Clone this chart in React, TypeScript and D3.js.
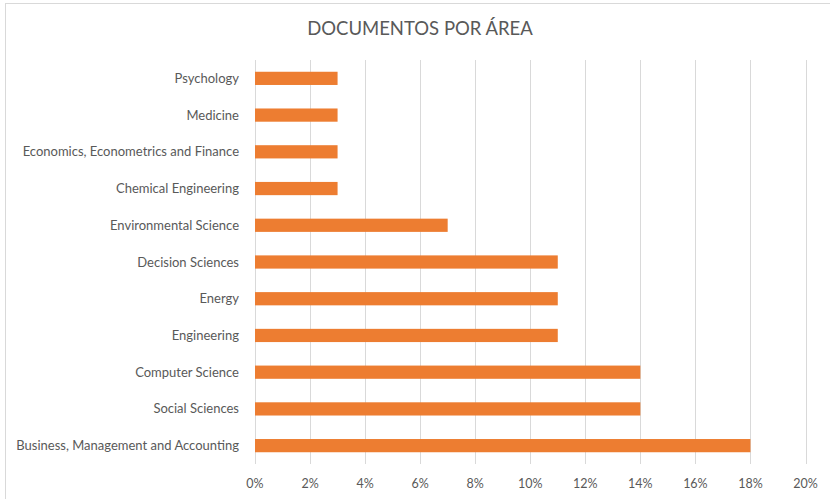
import { useEffect, useRef } from "react";
import * as d3 from "d3";

const categories = [
  "Psychology",
  "Medicine",
  "Economics, Econometrics and Finance",
  "Chemical Engineering",
  "Environmental Science",
  "Decision Sciences",
  "Energy",
  "Engineering",
  "Computer Science",
  "Social Sciences",
  "Business, Management and Accounting",
];
const shares = [0.03, 0.03, 0.03, 0.03, 0.07, 0.11, 0.11, 0.11, 0.14, 0.14, 0.18];
const ticks = [0, 0.02, 0.04, 0.06, 0.08, 0.1, 0.12, 0.14, 0.16, 0.18, 0.2];

const W = 830;
const H = 499;
const FONT = "Lato, 'Open Sans', sans-serif";
const TEXT = "#595959";

export default function App() {
  const ref = useRef<SVGSVGElement>(null);

  useEffect(() => {
    if (!ref.current) return;
    const svg = d3.select(ref.current);
    svg.selectAll("*").remove();

    const x = d3.scaleLinear().domain([0, 0.2]).range([255, 805.5]);
    const y = d3.scaleBand<string>().domain(categories).range([60, 464]).paddingInner(0.64).paddingOuter(0.32);

    svg.append("rect").attr("width", W).attr("height", H).attr("fill", "#fff");
    // chart area frame (right/bottom edges are cut off in the original)
    svg
      .append("rect")
      .attr("x", 5.5)
      .attr("y", 3.5)
      .attr("width", W + 10)
      .attr("height", H + 10)
      .attr("fill", "none")
      .attr("stroke", "#d9d9d9");

    svg
      .append("text")
      .attr("x", 420)
      .attr("y", 35)
      .attr("text-anchor", "middle")
      .attr("font-family", FONT)
      .attr("font-size", 18.5)
      .attr("fill", TEXT)
      .text("DOCUMENTOS POR ÁREA");

    // vertical gridlines
    svg
      .append("g")
      .selectAll("line")
      .data(ticks)
      .join("line")
      .attr("x1", (d) => Math.round(x(d)) + 0.5)
      .attr("x2", (d) => Math.round(x(d)) + 0.5)
      .attr("y1", 60)
      .attr("y2", 464)
      .attr("stroke", "#d9d9d9")
      .attr("stroke-width", 1);

    svg
      .append("g")
      .selectAll("text")
      .data(ticks)
      .join("text")
      .attr("x", (d) => x(d))
      .attr("y", 488)
      .attr("text-anchor", "middle")
      .attr("font-family", FONT)
      .attr("font-size", 12.5)
      .attr("fill", TEXT)
      .text((d) => d3.format(".0%")(d));

    svg
      .append("g")
      .selectAll("rect")
      .data(categories)
      .join("rect")
      .attr("x", x(0))
      .attr("y", (d) => y(d)!)
      .attr("width", (_d, i) => x(shares[i]) - x(0))
      .attr("height", y.bandwidth())
      .attr("fill", "#ED7D31");

    svg
      .append("g")
      .selectAll("text")
      .data(categories)
      .join("text")
      .attr("x", 239)
      .attr("y", (d) => y(d)! + y.bandwidth() / 2)
      .attr("dy", "0.35em")
      .attr("text-anchor", "end")
      .attr("font-family", FONT)
      .attr("font-size", 13)
      .attr("fill", TEXT)
      .text((d) => d);
  }, []);

  return (
    <svg
      ref={ref}
      width={W}
      height={H}
      style={{ position: "absolute", left: 0, top: 0, display: "block" }}
    />
  );
}
